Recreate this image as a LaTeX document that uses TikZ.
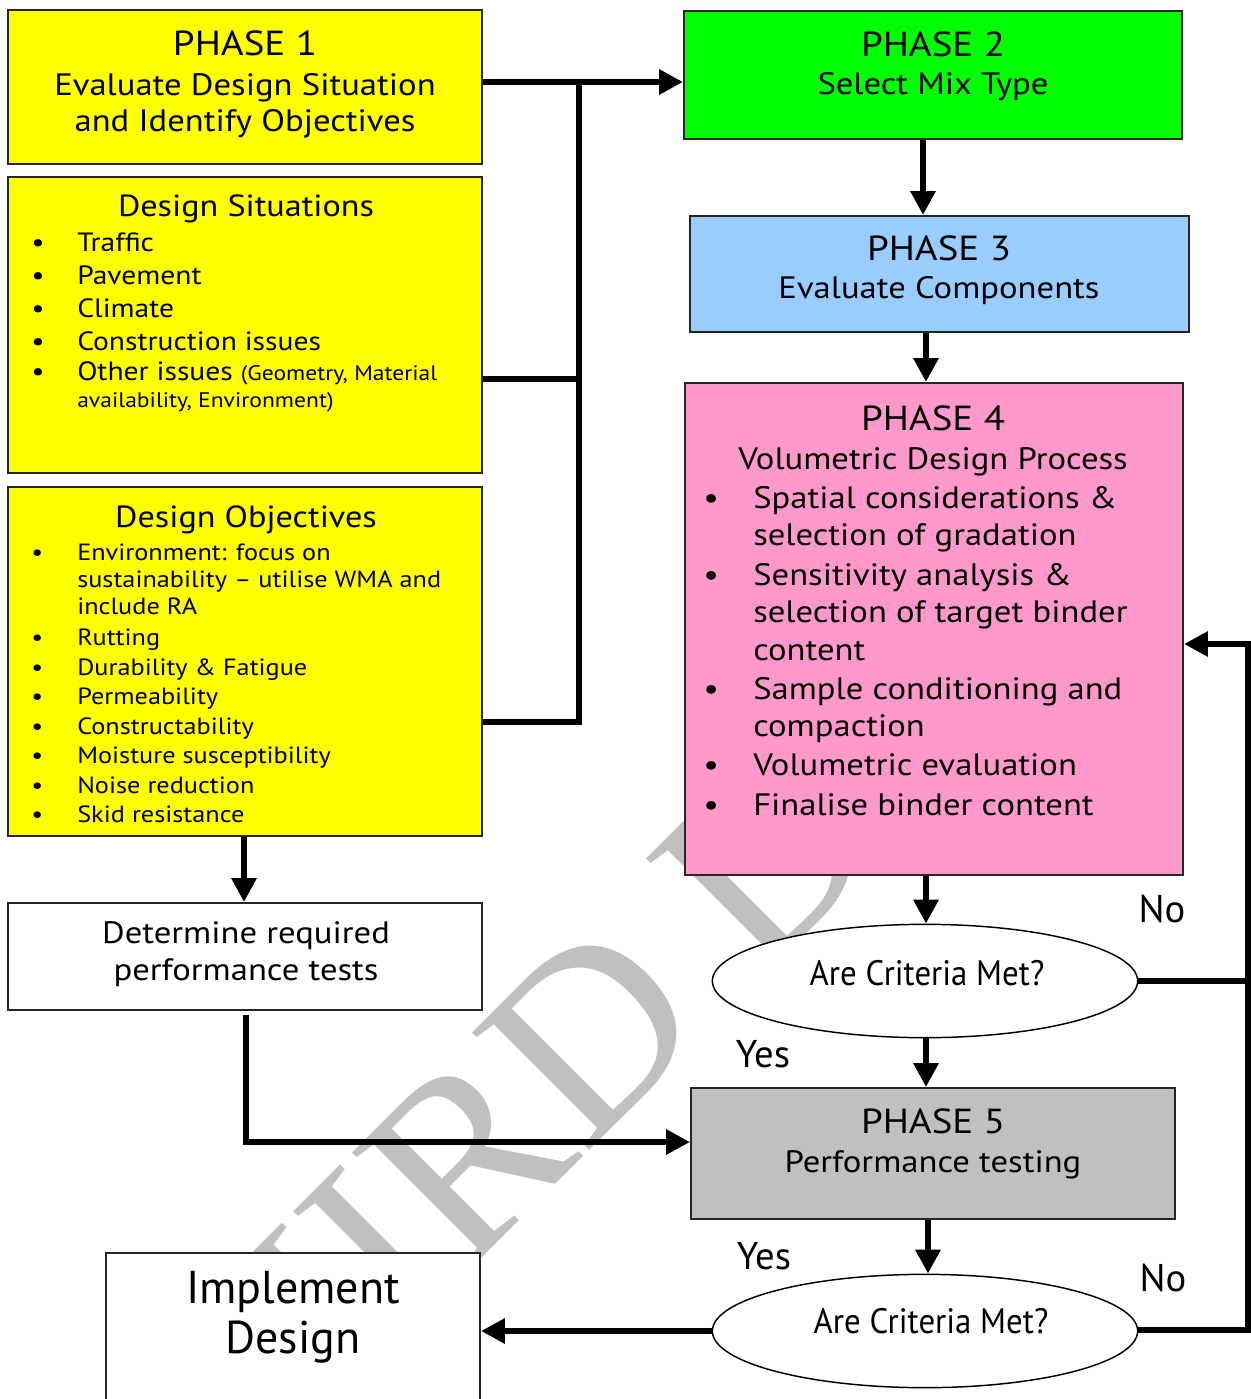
\documentclass[tikz,border=0pt]{standalone}
\usepackage{fontspec}
\setmainfont{PT Sans}[FakeStretch=1.12]
\newfontfamily\plainfont{PT Sans}
\newfontfamily\markfont{Liberation Serif}
\newfontfamily\narrowfont{PT Sans}[FakeStretch=0.93]
\usetikzlibrary{arrows.meta,shapes.geometric,fit}

\definecolor{phaseyellow}{HTML}{FFFF00}
\definecolor{phasegreen}{HTML}{00FF00}
\definecolor{phaseblue}{HTML}{99CCFF}
\definecolor{phasepink}{HTML}{FF99CC}
\definecolor{phasegrey}{HTML}{C0C0C0}
\definecolor{markgrey}{HTML}{C0C0C0}

\begin{document}
\begin{tikzpicture}[x=0.75pt,y=-0.75pt,
  box/.style={draw=black!85,line width=1.4pt,inner sep=0pt},
  oval/.style={ellipse,draw=black,line width=1.1pt,fill=white,inner sep=0pt,
    minimum width=319pt,minimum height=85pt},
  txt/.style={inner sep=0pt,anchor=base},
  ltxt/.style={inner sep=0pt,anchor=base west},
  phasefont/.style={font=\fontsize{26.1pt}{30pt}\selectfont},
  subfont/.style={font=\fontsize{23.2pt}{27pt}\selectfont},
  titlefont/.style={font=\fontsize{22.9pt}{27pt}\selectfont},
  listfont/.style={font=\fontsize{19.8pt}{24pt}\selectfont},
  objfont/.style={font=\fontsize{17.6pt}{21pt}\selectfont},
  smallfont/.style={font=\fontsize{15.8pt}{19pt}\selectfont},
  bigfont/.style={font=\plainfont\fontsize{34.5pt}{40pt}\selectfont},
  answerfont/.style={font=\plainfont\fontsize{29pt}{34pt}\selectfont},
  ovalfont/.style={font=\narrowfont\fontsize{26.5pt}{30pt}\selectfont},
  link/.style={line width=5.2pt},
  flow/.style={line width=5.2pt,-{Triangle[length=18pt,width=18pt]}},
]
\useasboundingbox (0,0) rectangle (1251,1399);

% watermark behind everything
\node[inner sep=0pt,anchor=base west,rotate=45,text=markgrey,
  font=\markfont\fontsize{190pt}{190pt}\selectfont] (wm) at (166,1574) {THIRD D};

% boxes
\node[box,fill=phaseyellow,fit={(8,10) (482,164)}] (p1) {};
\node[box,fill=phaseyellow,fit={(8,177) (482,473)}] (ds) {};
\node[box,fill=phaseyellow,fit={(8,487) (482,836)}] (do) {};
\node[box,fill=white,fit={(8,903) (482,1010)}] (dt) {};
\node[box,fill=white,fit={(106,1253) (480,1420)}] (im) {};
\node[box,fill=phasegreen,fit={(684,11) (1182,139)}] (p2) {};
\node[box,fill=phaseblue,fit={(690,216) (1189,332)}] (p3) {};
\node[box,fill=phasepink,fit={(685,383) (1183,875)}] (p4) {};
\node[box,fill=phasegrey,fit={(691,1088) (1175,1219)}] (p5) {};
\node[oval] (c1) at (925,981) {};
\node[oval] (c2) at (925,1331) {};

% phase 1
\node[txt,phasefont] (p1a) at (245,55) {PHASE 1};
\node[txt,subfont] (p1b) at (245,95) {Evaluate Design Situation};
\node[txt,subfont] (p1c) at (245,131) {and Identify Objectives};

% design situations
\node[txt,titlefont] (dsa) at (246,216) {Design Situations};
\foreach \y/\t [count=\i] in {251/Traffic,284/Pavement,317/Climate,350/Construction issues}{
  \node[ltxt,listfont] (dsb\i) at (31,\y) {\textbullet};
  \node[ltxt,listfont] (dst\i) at (77,\y) {\t};
}
\node[ltxt,listfont] (dsb5) at (31,380) {\textbullet};
\node[ltxt,listfont] (dst5) at (77,380) {Other issues {\fontsize{15.8pt}{19pt}\selectfont(Geometry, Material}};
\node[ltxt,smallfont] (dst6) at (77,407) {availability, Environment)};

% design objectives
\node[txt,titlefont] (doa) at (246,527) {Design Objectives};
\node[ltxt,objfont] (dob1) at (31,560) {\textbullet};
\node[ltxt,objfont] (dot1) at (77,560) {Environment: focus on};
\node[ltxt,objfont] (dot2) at (77,587) {sustainability -- utilise WMA and};
\node[ltxt,objfont] (dot3) at (77,614) {include RA};
\foreach \y/\t [count=\i from 4] in {645/Rutting,675/Durability \& Fatigue,704/Permeability,
    734/Constructability,763/Moisture susceptibility,793/Noise reduction,822/Skid resistance}{
  \node[ltxt,objfont] (dob\i) at (31,\y) {\textbullet};
  \node[ltxt,objfont] (dot\i) at (77,\y) {\t};
}

% determine tests
\node[txt,subfont] (dta) at (246,943) {Determine required};
\node[txt,subfont] (dtb) at (246,980) {performance tests};

% implement
\node[txt,bigfont] (ima) at (293,1303) {Implement};
\node[txt,bigfont] (imb) at (293,1353) {Design};

% phase 2, 3
\node[txt,phasefont] (p2a) at (933,56) {PHASE 2};
\node[txt,subfont] (p2b) at (933,94) {Select Mix Type};
\node[txt,phasefont] (p3a) at (939,260) {PHASE 3};
\node[txt,subfont] (p3b) at (939,298) {Evaluate Components};

% phase 4
\node[txt,phasefont] (p4a) at (933,430) {PHASE 4};
\node[txt,subfont] (p4b) at (933,469) {Volumetric Design Process};
\foreach \y [count=\i] in {508,585,699,775,815}{
  \node[ltxt,subfont] (p4d\i) at (703,\y) {\textbullet};
}
\foreach \y/\t [count=\i] in {508/Spatial considerations \&,545/selection of gradation,
    585/Sensitivity analysis \&,622/selection of target binder,660/content,
    699/Sample conditioning and,736/compaction,775/Volumetric evaluation,815/Finalise binder content}{
  \node[ltxt,subfont] (p4t\i) at (753,\y) {\t};
}

% phase 5
\node[txt,phasefont] (p5a) at (933,1133) {PHASE 5};
\node[txt,subfont] (p5b) at (933,1172) {Performance testing};

% decisions
\node[txt,ovalfont] (c1t) at (927,985) {Are Criteria Met?};
\node[txt,ovalfont] (c2t) at (931,1333) {Are Criteria Met?};
\node[txt,answerfont] (no1) at (1162,922) {No};
\node[txt,answerfont] (yes1) at (763,1067) {Yes};
\node[txt,answerfont] (yes2) at (764,1269) {Yes};
\node[txt,answerfont] (no2) at (1163,1291) {No};

% connectors
\coordinate (j1) at (579,82);
\coordinate (j2) at (579,722);
\coordinate (j3) at (579,379);
\draw[flow] (p1.east |- j1) -- (p2.west |- j1);
\draw[link] (j1) -- (j2) -- (do.east |- j2);
\draw[link] (ds.east |- j3) -- (j3);
\draw[flow] (do.south -| 244,0) -- (dt.north -| 244,0);
\coordinate (k1) at (246,1015);
\coordinate (k2) at (246,1142);
\draw[flow] (k1) -- (k2) -- (p5.west |- k2);
\draw[flow] (p2.south -| 923,0) -- (p3.north -| 923,0);
\draw[flow] (p3.south -| 926,0) -- (p4.north -| 926,0);
\draw[flow] (p4.south -| 926,0) -- (c1.north -| 926,0);
\draw[flow] (c1.south -| 926,0) -- (p5.north -| 926,0);
\draw[flow] (p5.south -| 928,0) -- (c2.north -| 928,0);
\coordinate (r1) at (1248,981);
\coordinate (r2) at (1248,1330);
\coordinate (r3) at (1248,644);
\draw[link] (c1.east) -- (r1);
\draw[flow] (c2.east |- r2) -- (r2) -- (r3) -- (p4.east |- r3);
\draw[flow] (c2.west) -- (im.east |- c2.west);
\end{tikzpicture}
\end{document}
